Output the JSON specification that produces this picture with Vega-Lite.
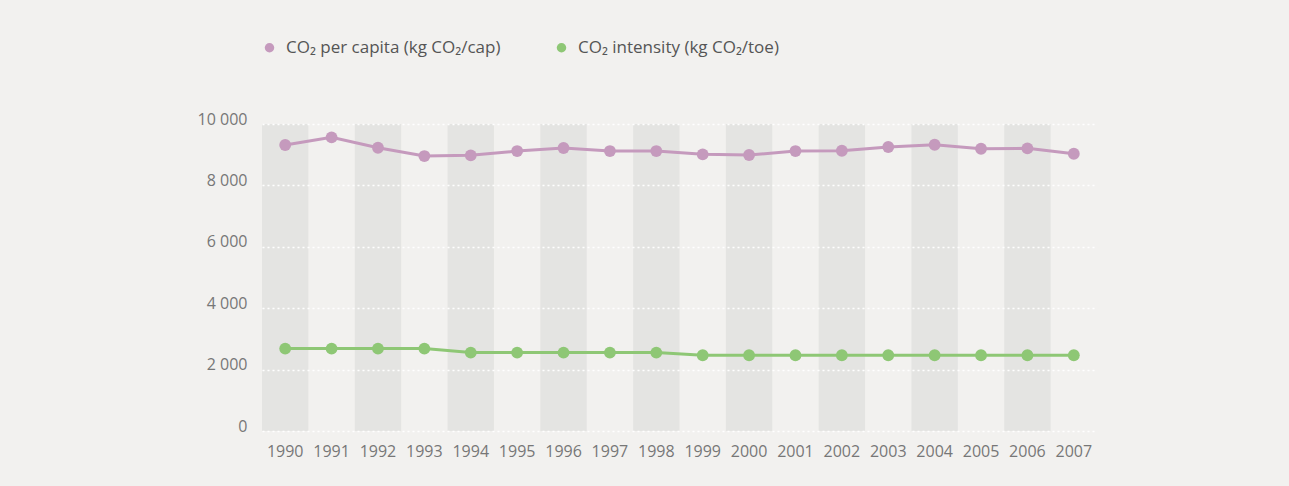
{
  "$schema": "https://vega.github.io/schema/vega-lite/v6.json",
  "autosize": {"type": "none"},
  "padding": {"left": 262, "top": 124, "right": 192, "bottom": 55},
  "width": 835,
  "height": 307,
  "background": "#f2f1ef",
  "config": {
    "view": {"stroke": null},
    "font": "Open Sans"
  },
  "data": {
    "values": [
      {"year": "1990", "series": "CO₂ per capita (kg CO₂/cap)", "value": 9315},
      {"year": "1991", "series": "CO₂ per capita (kg CO₂/cap)", "value": 9566},
      {"year": "1992", "series": "CO₂ per capita (kg CO₂/cap)", "value": 9227},
      {"year": "1993", "series": "CO₂ per capita (kg CO₂/cap)", "value": 8956},
      {"year": "1994", "series": "CO₂ per capita (kg CO₂/cap)", "value": 8979},
      {"year": "1995", "series": "CO₂ per capita (kg CO₂/cap)", "value": 9119},
      {"year": "1996", "series": "CO₂ per capita (kg CO₂/cap)", "value": 9217},
      {"year": "1997", "series": "CO₂ per capita (kg CO₂/cap)", "value": 9119},
      {"year": "1998", "series": "CO₂ per capita (kg CO₂/cap)", "value": 9119},
      {"year": "1999", "series": "CO₂ per capita (kg CO₂/cap)", "value": 9011},
      {"year": "2000", "series": "CO₂ per capita (kg CO₂/cap)", "value": 8989},
      {"year": "2001", "series": "CO₂ per capita (kg CO₂/cap)", "value": 9119},
      {"year": "2002", "series": "CO₂ per capita (kg CO₂/cap)", "value": 9129},
      {"year": "2003", "series": "CO₂ per capita (kg CO₂/cap)", "value": 9250},
      {"year": "2004", "series": "CO₂ per capita (kg CO₂/cap)", "value": 9325},
      {"year": "2005", "series": "CO₂ per capita (kg CO₂/cap)", "value": 9194},
      {"year": "2006", "series": "CO₂ per capita (kg CO₂/cap)", "value": 9207},
      {"year": "2007", "series": "CO₂ per capita (kg CO₂/cap)", "value": 9031},
      {"year": "1990", "series": "CO₂ intensity (kg CO₂/toe)", "value": 2685},
      {"year": "1991", "series": "CO₂ intensity (kg CO₂/toe)", "value": 2685},
      {"year": "1992", "series": "CO₂ intensity (kg CO₂/toe)", "value": 2685},
      {"year": "1993", "series": "CO₂ intensity (kg CO₂/toe)", "value": 2685},
      {"year": "1994", "series": "CO₂ intensity (kg CO₂/toe)", "value": 2555},
      {"year": "1995", "series": "CO₂ intensity (kg CO₂/toe)", "value": 2555},
      {"year": "1996", "series": "CO₂ intensity (kg CO₂/toe)", "value": 2555},
      {"year": "1997", "series": "CO₂ intensity (kg CO₂/toe)", "value": 2555},
      {"year": "1998", "series": "CO₂ intensity (kg CO₂/toe)", "value": 2555},
      {"year": "1999", "series": "CO₂ intensity (kg CO₂/toe)", "value": 2467},
      {"year": "2000", "series": "CO₂ intensity (kg CO₂/toe)", "value": 2467},
      {"year": "2001", "series": "CO₂ intensity (kg CO₂/toe)", "value": 2467},
      {"year": "2002", "series": "CO₂ intensity (kg CO₂/toe)", "value": 2467},
      {"year": "2003", "series": "CO₂ intensity (kg CO₂/toe)", "value": 2467},
      {"year": "2004", "series": "CO₂ intensity (kg CO₂/toe)", "value": 2467},
      {"year": "2005", "series": "CO₂ intensity (kg CO₂/toe)", "value": 2467},
      {"year": "2006", "series": "CO₂ intensity (kg CO₂/toe)", "value": 2467},
      {"year": "2007", "series": "CO₂ intensity (kg CO₂/toe)", "value": 2467}
    ]
  },
  "encoding": {
    "x": {
      "field": "year",
      "type": "ordinal",
      "scale": {"type": "band", "paddingInner": 0, "paddingOuter": 0},
      "axis": {
        "title": null,
        "domain": false,
        "ticks": false,
        "labelAngle": 0,
        "labelFontSize": 16,
        "labelColor": "#777777",
        "labelPadding": 12,
        "labelOverlap": false
      }
    }
  },
  "layer": [
    {
      "transform": [
        {"filter": "datum.series == 'CO₂ intensity (kg CO₂/toe)' && toNumber(datum.year) % 2 == 0"}
      ],
      "mark": {"type": "rect", "color": "#e4e4e2"},
      "encoding": {}
    },
    {
      "mark": {"type": "line", "strokeWidth": 3},
      "encoding": {
        "y": {
          "field": "value",
          "type": "quantitative",
          "scale": {"domain": [0, 10000]},
          "axis": {
            "title": null,
            "domain": false,
            "ticks": false,
            "values": [0, 2000, 4000, 6000, 8000, 10000],
            "labelExpr": "replace(format(datum.value, ','), ',', ' ')",
            "labelFontSize": 16,
            "labelColor": "#777777",
            "labelPadding": 15,
            "labelOffset": -5,
            "grid": true,
            "gridColor": "#ffffff",
            "gridDash": [2, 3],
            "gridWidth": 1.5,
            "zindex": 1
          }
        },
        "color": {
          "field": "series",
          "type": "nominal",
          "scale": {
            "domain": ["CO₂ per capita (kg CO₂/cap)", "CO₂ intensity (kg CO₂/toe)"],
            "range": ["#c59abd", "#8ec775"]
          },
          "legend": null
        }
      }
    },
    {
      "mark": {"type": "point", "filled": true, "size": 140, "opacity": 1},
      "encoding": {
        "y": {"field": "value", "type": "quantitative"},
        "color": {
          "field": "series",
          "type": "nominal",
          "scale": {
            "domain": ["CO₂ per capita (kg CO₂/cap)", "CO₂ intensity (kg CO₂/toe)"],
            "range": ["#c59abd", "#8ec775"]
          },
          "legend": {
            "title": null,
            "orient": "none",
            "legendX": -1,
            "legendY": -85,
            "direction": "horizontal",
            "columns": 2,
            "columnPadding": 52,
            "symbolType": "circle",
            "symbolSize": 90,
            "symbolStrokeWidth": 0,
            "labelFontSize": 17,
            "labelColor": "#555555",
            "labelOffset": 8,
            "labelLimit": 400
          }
        }
      }
    }
  ],
  "resolve": {"legend": {"color": "independent"}}
}
